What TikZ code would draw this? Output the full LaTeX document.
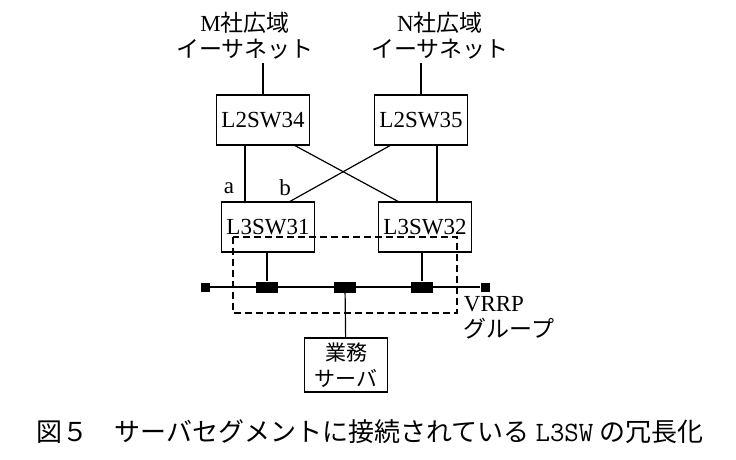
\documentclass[tikz,border=0pt]{standalone}
\usepackage{fontspec}
\setmainfont{Liberation Serif}
\newfontfamily\jp{Noto Sans CJK JP}
\usetikzlibrary{positioning}
\tikzset{
	sw node/.style={rectangle,draw,line width=1.2pt,minimum width=93pt,minimum height=50pt,inner sep=1pt,font=\fontsize{23}{25}\selectfont},
	label text/.style={align=center,font=\fontsize{23}{26}\selectfont},
	port/.style={rectangle,fill=black,minimum width=22pt,minimum height=11pt,inner sep=0pt},
	end port/.style={rectangle,fill=black,minimum size=9pt,inner sep=0pt}
}
\begin{document}
\begin{tikzpicture}[x=1pt,y=-1pt,line width=1.2pt]
	\useasboundingbox (0,0) rectangle (736,460);
	% networks
	\node [label text] (m) at (245,36) {M{\jp 社広域}\\{\jp イーサネット}};
	\node [label text] (n) at (440,36) {N{\jp 社広域}\\{\jp イーサネット}};
	% switches
	\node [sw node] (s34) at (263,120) {L2SW34};
	\node [sw node] (s35) at (421,120) {L2SW35};
	\node [sw node] (s31) at (268,227) {L3SW31};
	\node [sw node] (s32) at (425,227) {L3SW32};
	\draw (m.south -| s34) -- (s34);
	\draw (n.south -| s35) -- (s35);
	\draw (s34.south -| 245,0) -- (s31.north -| 245,0);
	\draw (s35.south -| 437,0) -- (s32.north -| 437,0);
	\draw (s34.south -| 295,0) -- (s32.north -| 398,0);
	\draw (s35.south -| 390,0) -- (s31.north -| 290,0);
	\node [label text] (a) at (229,188) {a};
	\node [label text] (b) at (285,188) {b};
	% VRRP
	\draw [dash pattern=on 7pt off 4pt,line width=1.6pt] (233,237) rectangle (457,313);
	\node [label text,align=left,anchor=west] (vrrp) at (460,318) {VRRP\\{\jp グループ}};
	% segment
	\node [end port] (e1) at (205,287) {};
	\node [end port] (e2) at (485,287) {};
	\draw [line width=2.4pt] (e1) -- (e2);
	\node [port] (p1) at (267,287) {};
	\node [port] (p2) at (345,287) {};
	\node [port] (p3) at (422,287) {};
	\draw (s31.south -| p1) -- (p1);
	\draw (s32.south -| p3) -- (p3);
	\node [sw node,minimum width=83pt,minimum height=54pt,align=center,font=\jp\fontsize{21}{26}\selectfont] (srv) at (346,365) {業務\\サーバ};
	\draw (p2) -- (srv);
	% caption
	\node [font=\jp\fontsize{26}{28}\selectfont] (cap) at (370,432) {図５\hspace{1em}サーバセグメントに接続されている {\ttfamily\fontsize{28}{28}\selectfont L3SW} の冗長化};
\end{tikzpicture}
\end{document}
